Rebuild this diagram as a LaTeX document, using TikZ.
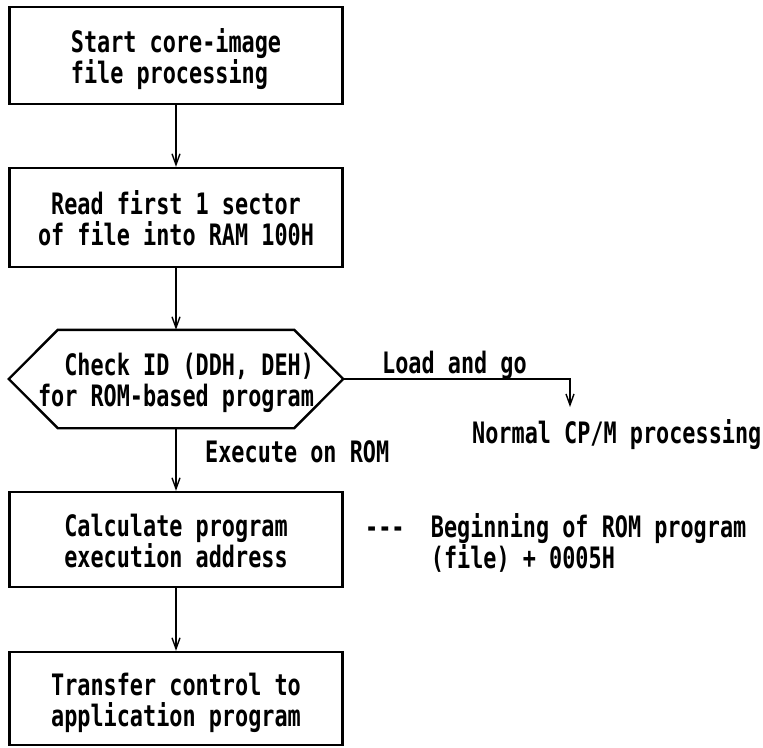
\documentclass[tikz,border=0pt]{standalone}
\usepackage{fontspec}
\newfontfamily\diagfont[FakeStretch=0.74]{DejaVu Sans Mono}
\usetikzlibrary{arrows.meta}
\newcommand\dgtop{\rule{0pt}{31pt}}
\newcommand\dgbot{\rule[-7pt]{0pt}{0pt}}
\begin{document}
\begin{tikzpicture}[x=1pt,y=-1pt,
  txt/.style={font=\diagfont\bfseries\fontsize{29.5pt}{31pt}\selectfont, inner sep=0pt},
  boxline/.style={line width=2.4pt, line join=miter},
  procbox/.style={txt, draw, boxline, minimum width=333pt, align=center},
  conn/.style={line width=1.4pt, -{Straight Barb[length=11pt,width=8pt]}}]
\useasboundingbox (0,0) rectangle (763,747);
% process boxes
\node[procbox, minimum height=97pt, align=left] (b1) at (176,55.5)
  {\dgtop Start core-image\\file processing\dgbot};
\node[procbox, minimum height=99pt] (b2) at (176,217.5)
  {\dgtop Read first 1 sector\\of file into RAM 100H\dgbot};
\node[txt, minimum width=334pt, minimum height=98pt, align=left] (hx) at (176,379)
  {\dgtop\phantom{xx}Check ID (DDH, DEH)\\for ROM-based program\dgbot};
\draw[boxline] (hx.west) -- ([xshift=49pt]hx.north west) -- ([xshift=-49pt]hx.north east)
  -- (hx.east) -- ([xshift=-49pt]hx.south east) -- ([xshift=49pt]hx.south west) -- cycle;
\node[procbox, minimum height=95pt] (b3) at (176,539.5)
  {\dgtop Calculate program\\execution address\dgbot};
\node[procbox, minimum height=93pt] (b4) at (176,698.5)
  {\dgtop Transfer control to\\application program\dgbot};
% connectors
\draw[conn] (b1) -- (b2);
\draw[conn] (b2) -- (hx);
\draw[conn] (hx) -- (b3);
\draw[conn] (b3) -- (b4);
\coordinate (lg) at (570,407);
\draw[conn] (hx.east) -| (lg);
% labels
\node[txt, anchor=base west] (lload) at (382,373) {Load and go};
\node[txt, anchor=base west] (normal) at (472,443) {Normal CP/M processing};
\node[txt, anchor=base west] (exe) at (205,462) {Execute on ROM};
\node[txt, anchor=north west, align=left] (beg) at (365,506)
  {\dgtop\hbox{-}\hbox{-}\hbox{-}~~Beginning of ROM program\\\phantom{xxxxx}(file) + 0005H};
\end{tikzpicture}
\end{document}
